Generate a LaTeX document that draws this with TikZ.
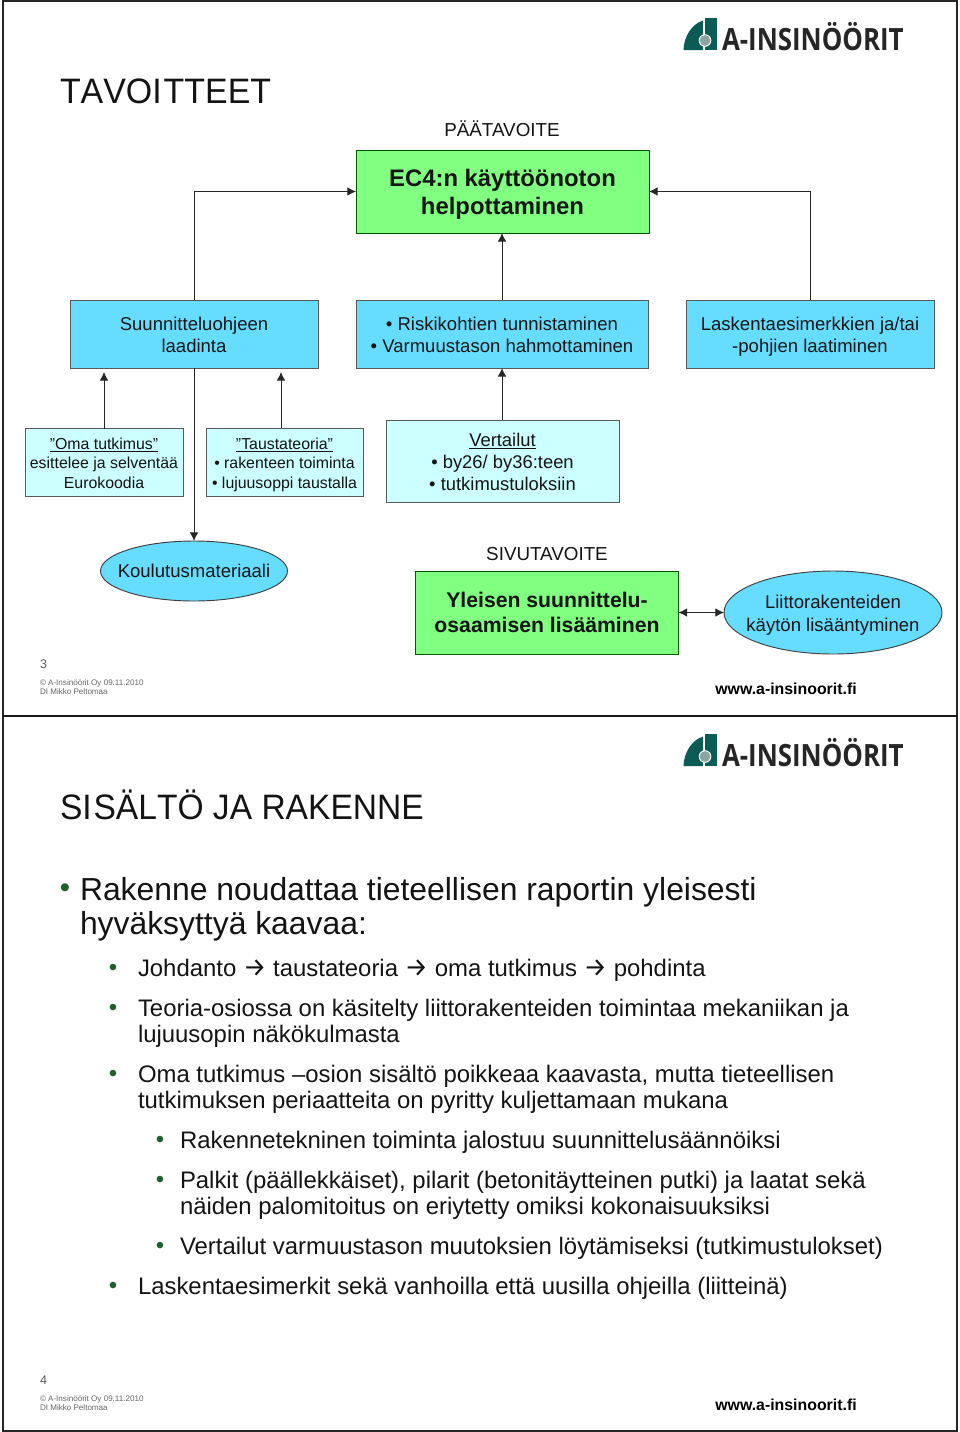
\documentclass[tikz,border=0pt]{standalone}
\usepackage{fontspec}
\usepackage{graphicx}
\setmainfont{Liberation Sans}
\newfontfamily\symf{Fira Sans}
\newfontfamily\logof{Open Sans}
\usetikzlibrary{shapes.geometric,arrows.meta}
\definecolor{goalg}{HTML}{80FF80}
\definecolor{cardb}{HTML}{66DDFF}
\definecolor{lightb}{HTML}{CCFFFF}
\definecolor{logog}{HTML}{0B5C54}
\definecolor{txt}{HTML}{141414}
\definecolor{bulg}{HTML}{1F5F2F}
\newcommand{\fs}[1]{\fontsize{#1}{#1}\selectfont}
\newcommand{\arr}{{\symf\fs{19.6}→}}
\newcommand{\sg}{\vphantom{Ãgj}}
\newcommand{\tp}[1]{\rule{0pt}{#1pt}}
\tikzset{
  x=0.75pt,y=-0.75pt,
  every node/.style={inner sep=0pt,outer sep=0pt,text=txt},
  boxbase/.style={draw=#1,line width=0.7pt,rectangle,align=center},
  goalbox/.style={boxbase=black!65!green,fill=goalg,font=\bfseries\fs{17.9}},
  cardbox/.style={boxbase=black!65,fill=cardb,font=\fs{13.9}},
  lightbox/.style={boxbase=black!65,fill=lightb},
  ovalbox/.style={ellipse,draw=black!75,line width=0.7pt,fill=cardb,align=center,font=\fs{13.9}},
  conn/.style={draw=black!85,line width=0.75pt,-{Latex[length=6.5pt,width=6.5pt]}},
  conn2/.style={draw=black!85,line width=0.75pt,{Latex[length=6.5pt,width=6.5pt]}-{Latex[length=6.5pt,width=6.5pt]}},
  frameline/.style={draw=black!85,line width=1pt},
  title/.style={anchor=base west,font=\fs{26.5}\addfontfeature{Kerning=Off}},
  caption/.style={anchor=base,font=\fs{14.1}},
  pageno/.style={anchor=base west,font=\fs{9.4},text=black!65},
  copyr/.style={anchor=base west,font=\fs{6.05},text=black!60,align=left},
  web/.style={anchor=base,font=\bfseries\fs{11.9},text=black},
  lone/.style={anchor=base west,font=\fs{23.9},align=left},
  ltwo/.style={anchor=base west,font=\fs{17.93},align=left},
  dotone/.style={anchor=base,font=\fs{18},text=bulg},
}
\begin{document}
\begin{tikzpicture}
\useasboundingbox (0,0) rectangle (960,1432);
\fill[white] (0,0) rectangle (960,1432);
% frames
\draw[frameline] (3,1) -- (957,1) -- (957,1431) -- (3,1431) -- cycle;
\draw[draw=black!90,line width=1.5pt] (3,716) -- (957,716);
% logos
\foreach \dy in {0,716}{
  \begin{scope}[yshift=-\dy*0.75pt]
    \fill[logog] (683.5,50) .. controls (684,36) and (692,24) .. (703,20.5) -- (703,50) -- cycle;
    \fill[logog] (705,18) -- (716.5,18) -- (716.5,50) -- (705,50) -- cycle;
    \fill[fill=white] (705,40.5) circle (6.3);
    \fill[fill={rgb,255:red,140;green,165;blue,160}] (705,40.5) circle (5.4);
    \node[anchor=base west,font=\logof\bfseries\fs{23},text=black!85] at (722,50) {\scalebox{0.845}[1]{A-INSINÖÖRIT}};
  \end{scope}
}
% page 1
\node[title] (t1) at (60,103) {\scalebox{0.96}[1]{TAVOI\kern1.5pt TTEET}};
\node[caption] (cap1) at (502,136.5) {PÄÄTAVOITE};
\node[goalbox,minimum width=293*0.75pt,minimum height=83*0.75pt] (goal) at (502.5,191.5) {\tp{17.6}\sg EC4:n käyttöönoton\\[0pt]\sg helpottaminen};
\node[cardbox,minimum width=248*0.75pt,minimum height=68*0.75pt] (suun) at (194,334) {\tp{14}\sg Suunnitteluohjeen\\[1pt]\sg laadinta};
\node[cardbox,minimum width=292*0.75pt,minimum height=68*0.75pt] (risk) at (502,334) {\tp{14}\sg\textbullet{} Riskikohtien tunnistaminen\\[1pt]\sg\textbullet{} Varmuustason hahmottaminen};
\node[cardbox,minimum width=248*0.75pt,minimum height=68*0.75pt] (lask) at (810,334) {\tp{14}\sg Laskentaesimerkkien ja/tai\\[1pt]\sg -pohjien laatiminen};
\node[lightbox,font=\fs{11.9},minimum width=158*0.75pt,minimum height=68*0.75pt] (oma) at (104,462.5) {\tp{12.2}\sg\underline{”Oma tutkimus”}\\[0.8pt]\sg esittelee ja selventää\\[0.8pt]\sg Eurokoodia};
\node[lightbox,font=\fs{11.9},minimum width=157*0.75pt,minimum height=68*0.75pt] (taus) at (284.5,462.5) {\tp{12.2}\sg\underline{”Taustateoria”}\\[0.8pt]\sg\textbullet{} rakenteen toiminta\\[0.8pt]\sg\textbullet{} lujuusoppi taustalla};
\node[lightbox,font=\fs{13.8},minimum width=233*0.75pt,minimum height=82*0.75pt] (vert) at (502.5,461) {\tp{14}\sg\underline{Vertailut}\\[0.6pt]\sg\textbullet{} by26/ by36:teen\\[0.6pt]\sg\textbullet{} tutkimustuloksiin};
\node[ovalbox,inner xsep=-7.7pt,minimum width=187*0.75pt,minimum height=60*0.75pt] (koul) at (194,571) {Koulutusmateriaali};
\node[caption] (cap2) at (547,560) {SIVUTAVOITE};
\node[goalbox,font=\bfseries\fs{15.9},minimum width=263*0.75pt,minimum height=83*0.75pt] (sivu) at (547,612.5) {\sg Yleisen suunnittelu-\\[0pt]\sg osaamisen lisääminen};
\node[ovalbox,inner xsep=-7.5pt,minimum width=218*0.75pt,minimum height=83*0.75pt] (liit) at (833,612.5) {\tp{14.5}\sg Liittorakenteiden\\[1pt]\sg käytön lisääntyminen};
\coordinate (omatip) at (104,372);
\coordinate (taustart) at (281,428);
\coordinate (tautip) at (281,372);
\coordinate (rtip) at (502,368);
\draw[conn] (suun.north) |- (goal.west);
\draw[conn] (lask.north) |- (goal.east);
\draw[conn] (risk.north) -- (risk.north |- goal.south);
\draw[conn] (vert.north -| rtip) -- (rtip);
\draw[conn] (oma.north) -- (omatip);
\draw[conn] (taustart) -- (tautip);
\draw[conn] (suun.south) -- (koul.north);
\draw[conn2] (sivu.east |- liit.west) -- (liit.west);
\node[pageno] (p3) at (40,668) {3};
\node[copyr,anchor=north west] (c3) at (40,680) {© A-Insinöörit Oy 09.11.2010\\[0.5pt]DI Mikko Peltomaa};
\node[web] (w3) at (786,694) {www.a-insinoorit.fi};
% page 2
\node[title] (t2) at (60,819) {\scalebox{0.95}[1]{SI\kern1.5pt SÄLTÖ JA RAKENNE}};
\node[dotone,font=\fs{22}] (d0) at (65,897) {•};
\node[lone] (a0) at (80,900) {Rakenne noudattaa tieteellisen raportin yleisesti};
\node[lone] (a1) at (80,934) {hyväksyttyä kaavaa:};
\node[dotone] (d1) at (113,975) {•};
\node[ltwo] (b1) at (138,976) {Johdanto \arr{} taustateoria \arr{} oma tutkimus \arr{} pohdinta};
\node[dotone] (d2) at (113,1015) {•};
\node[ltwo] (b2) at (138,1016) {Teoria-osiossa on käsitelty liittorakenteiden toimintaa mekaniikan ja};
\node[ltwo] (b2b) at (138,1042) {lujuusopin näkökulmasta};
\node[dotone] (d3) at (113,1081) {•};
\node[ltwo] (b3) at (138,1082) {Oma tutkimus –osion sisältö poikkeaa kaavasta, mutta tieteellisen};
\node[ltwo] (b3b) at (138,1108) {tutkimuksen periaatteita on pyritty kuljettamaan mukana};
\node[dotone] (d4) at (160,1147) {•};
\node[ltwo] (c1) at (180,1148) {Rakennetekninen toiminta jalostuu suunnittelusäännöiksi};
\node[dotone] (d5) at (160,1187) {•};
\node[ltwo] (c2) at (180,1188.5) {Palkit (päällekkäiset), pilarit (betonitäytteinen putki) ja laatat sekä};
\node[ltwo] (c2b) at (180,1214.5) {näiden palomitoitus on eriytetty omiksi kokonaisuuksiksi};
\node[dotone] (d6) at (160,1253) {•};
\node[ltwo] (c3) at (180,1254.5) {Vertailut varmuustason muutoksien löytämiseksi (tutkimustulokset)};
\node[dotone] (d7) at (113,1293) {•};
\node[ltwo] (b4) at (138,1294.5) {Laskentaesimerkit sekä vanhoilla että uusilla ohjeilla (liitteinä)};
\node[pageno] (p4) at (40,1384) {4};
\node[copyr,anchor=north west] (c4) at (40,1396) {© A-Insinöörit Oy 09.11.2010\\[0.5pt]DI Mikko Peltomaa};
\node[web] (w4) at (786,1410) {www.a-insinoorit.fi};
\end{tikzpicture}
\end{document}
